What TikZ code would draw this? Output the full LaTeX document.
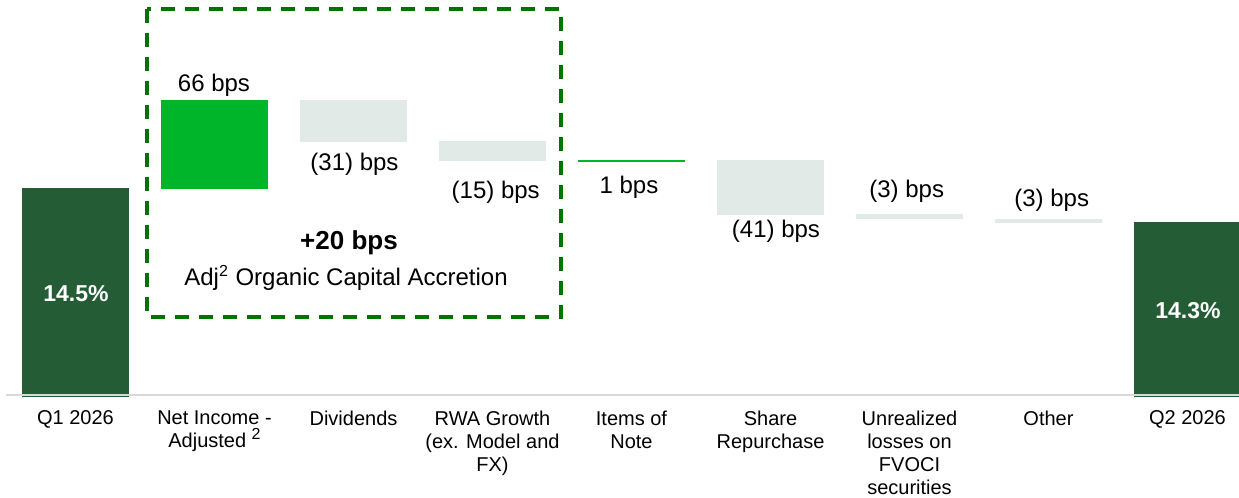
\documentclass[tikz,border=0pt]{standalone}
\usepackage{fontspec}
\setmainfont{Liberation Sans}
\usetikzlibrary{positioning}
\definecolor{capitalGreen}{RGB}{36,92,54}
\definecolor{gainGreen}{RGB}{0,181,41}
\definecolor{lossGrey}{RGB}{226,234,231}
\definecolor{boxGreen}{RGB}{0,115,0}
\definecolor{axisGrey}{RGB}{217,217,217}

\begin{document}
\begin{tikzpicture}[x=0.5pt,y=-0.5pt,
    catlabel/.style={font=\fontsize{10}{11.5}\selectfont, align=center, anchor=north, inner sep=0pt},
    bpslabel/.style={font=\fontsize{12}{14}\selectfont, anchor=base, inner sep=0pt},
    pctlabel/.style={font=\fontsize{11.5}{14}\selectfont\bfseries, text=white, anchor=base, inner sep=0pt}]
  \useasboundingbox (0,0) rectangle (1239,498);
  % opening and closing ratio
  \fill[capitalGreen] (22,188) rectangle (129,397);
  \fill[capitalGreen] (1134,222) rectangle (1239,397);
  % movements
  \fill[gainGreen] (161,100) rectangle (268,189);
  \fill[lossGrey] (300,100) rectangle (407,142);
  \fill[lossGrey] (439,141) rectangle (546,161);
  \draw[gainGreen, line width=1pt] (578,160.7) -- (685,160.7);
  \fill[lossGrey] (717,160) rectangle (824,215);
  \fill[lossGrey] (856,214) rectangle (963,219);
  \fill[lossGrey] (995,219.3) rectangle (1102,222.7);
  % axis
  \draw[axisGrey, line width=1pt] (6,395) -- (1239,395);
  % organic accretion box
  \draw[boxGreen, line width=2pt, dash pattern=on 7pt off 5pt] (147,9) rectangle (561,317);
  \node[font=\fontsize{13}{15}\selectfont\bfseries, anchor=base, inner sep=0pt] (accVal) at (349,249) {+20 bps};
  \node[font=\fontsize{12}{14}\selectfont, anchor=base, inner sep=0pt] (accText) at (346,285) {Adj\textsuperscript{2} Organic Capital Accretion};
  % values
  \node[pctlabel] (q1Val) at (76,301) {14.5\%};
  \node[pctlabel] (q2Val) at (1188,318) {14.3\%};
  \node[bpslabel] (niVal) at (214,91) {66 bps};
  \node[bpslabel] (divVal) at (354.5,170) {(31) bps};
  \node[bpslabel] (rwaVal) at (495.7,198) {(15) bps};
  \node[bpslabel] (itemsVal) at (629,193) {1 bps};
  \node[bpslabel] (buybackVal) at (776,237) {(41) bps};
  \node[bpslabel] (fvociVal) at (906.7,197) {(3) bps};
  \node[bpslabel] (otherVal) at (1051.7,206) {(3) bps};
  % categories
  \foreach \x/\txt [count=\i] in {75.5/{Q1 2026},
      214.5/{Net Income -\\Adjusted \smash{\raisebox{0.4em}{\fontsize{8}{8}\selectfont 2}}},
      353.5/{Dividends},
      492.5/{RWA Growth\\(ex. Model and\\FX)},
      631.5/{Items of\\Note},
      770.5/{Share\\Repurchase},
      909.5/{Unrealized\\losses on\\FVOCI\\securities},
      1048.5/{Other},
      1187.5/{Q2 2026}}
    \node[catlabel] (cat\i) at (\x,410.5) {\txt};
\end{tikzpicture}
\end{document}
